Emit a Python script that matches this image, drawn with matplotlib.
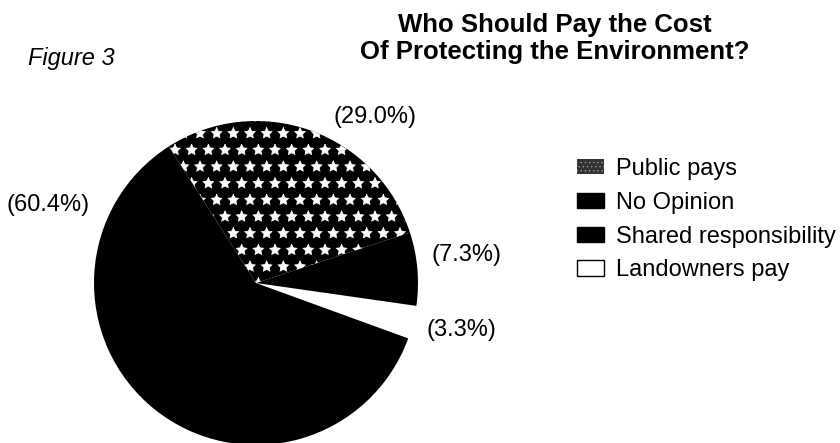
import numpy as np
import matplotlib
matplotlib.use('Agg')
import matplotlib.pyplot as plt
from matplotlib.patches import Patch

# Datos
categorias = ['Public pays', 'No Opinion', 'Shared responsibility', 'Landowners pay']
porcentajes = [29.0, 7.3, 60.4, 3.3]

# orden de las porciones en el pastel (antihorario desde startangle)
orden_pastel = [3, 1, 0, 2]

titulo = ['Who Should Pay the Cost', 'Of Protecting the Environment?']

plt.rcParams['font.family'] = ['Liberation Sans', 'DejaVu Sans']
plt.rcParams['hatch.linewidth'] = 0.5

fig = plt.figure(figsize=(8.4, 4.43), dpi=100)
ax = fig.add_axes([94 / 840, -2 / 443, 324 / 840, 324 / 443])

valores = [porcentajes[i] for i in orden_pastel]
wedges, _ = ax.pie(valores, startangle=-20, counterclock=True, radius=1,
                   wedgeprops=dict(linewidth=0))

estilos = {
    'Public pays': dict(facecolor='black', edgecolor='white', hatch='*'),
    'No Opinion': dict(facecolor='black', edgecolor='black'),
    'Shared responsibility': dict(facecolor='black', edgecolor='black'),
    'Landowners pay': dict(facecolor='white', edgecolor='white'),
}
for w, i in zip(wedges, orden_pastel):
    w.set(**estilos[categorias[i]])
    w.set_linewidth(0)

ax.set_xlim(-1, 1)
ax.set_ylim(-1, 1)
ax.set_aspect('equal')
ax.axis('off')

# etiquetas de porcentaje (ángulo, distancia) en el orden de categorias
pos_etiquetas = [(54.2, 1.26), (7.6, 1.31), (159.5, 1.37), (-12.8, 1.30)]
for v, (ang, d) in zip(porcentajes, pos_etiquetas):
    a = np.radians(ang)
    ax.text(d * np.cos(a), d * np.sin(a), f'({v:.1f}%)', fontsize=17,
            ha='center', va='center', clip_on=False)

# título y rótulo de figura
fig.text(555 / 840, 1 - 32 / 443, titulo[0], fontsize=18.5, fontweight='bold',
         ha='center', va='baseline')
fig.text(555 / 840, 1 - 59 / 443, titulo[1], fontsize=18.5, fontweight='bold',
         ha='center', va='baseline')
fig.text(28 / 840, 1 - 65 / 443, 'Figure 3', fontsize=17, style='italic',
         ha='left', va='baseline')

# leyenda
manejadores = [
    Patch(facecolor='#333333', edgecolor='#999999', hatch='....', linewidth=0),
    Patch(facecolor='black', edgecolor='black'),
    Patch(facecolor='black', edgecolor='black'),
    Patch(facecolor='white', edgecolor='black', linewidth=1),
]
fig.legend(manejadores, categorias, loc='upper left',
           bbox_to_anchor=(577 / 840, 1 - 158 / 443), frameon=False,
           fontsize=17, handlelength=1.15, handleheight=0.62,
           handletextpad=0.5, labelspacing=0.5, borderaxespad=0, borderpad=0)

fig.savefig('out.png', dpi=100, facecolor='white')
